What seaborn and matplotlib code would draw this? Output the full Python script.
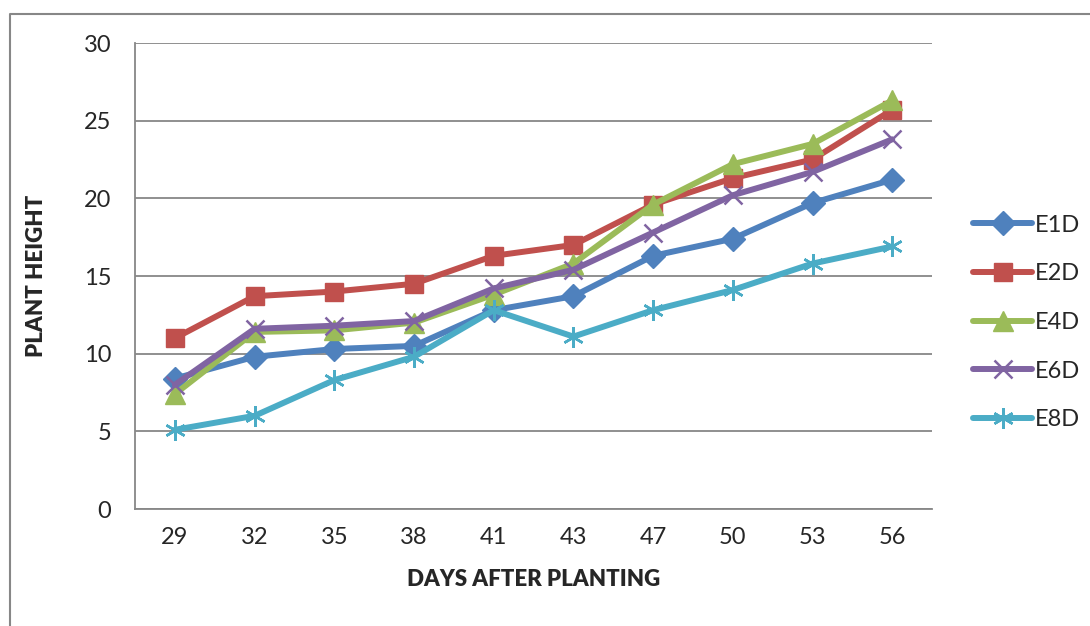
import numpy as np
import pandas as pd
import matplotlib
matplotlib.use("Agg")
import matplotlib.pyplot as plt
from matplotlib.lines import Line2D
from matplotlib.ticker import FixedLocator
import seaborn as sns

days = ["29", "32", "35", "38", "41", "43", "47", "50", "53", "56"]
e1d = [8.4, 9.8, 10.3, 10.5, 12.8, 13.7, 16.3, 17.4, 19.7, 21.2]
e2d = [11.0, 13.7, 14.0, 14.5, 16.3, 17.0, 19.6, 21.3, 22.5, 25.7]
e4d = [7.4, 11.4, 11.5, 12.0, 13.8, 15.8, 19.6, 22.2, 23.5, 26.3]
e6d = [8.0, 11.6, 11.8, 12.1, 14.2, 15.4, 17.8, 20.2, 21.7, 23.8]
e8d = [5.1, 6.0, 8.3, 9.8, 12.8, 11.1, 12.8, 14.1, 15.8, 16.9]

series_names = ["E1D", "E2D", "E4D", "E6D", "E8D"]
series_vals = [e1d, e2d, e4d, e6d, e8d]
colors = ["#4F81BD", "#C0504D", "#9BBB59", "#8064A2", "#4BACC6"]
# marker, size, edge width
marker_style = [("D", 12, 1), ("s", 13, 1), ("^", 14, 1), ("x", 13, 1.8), ((6, 2, 0), 15, 1.8)]

sns.set_style("white")
plt.rcParams["font.family"] = ["Lato", "DejaVu Sans"]

fig = plt.figure(figsize=(10.9, 6.26), dpi=100)
ax = fig.add_axes([0.1239, 0.1869, 0.7312, 0.7444])

grid_c = "#878787"
for name, vals, col, (mk, ms, mew) in zip(series_names, series_vals, colors, marker_style):
    df = pd.DataFrame({"day": days, "height": vals})
    sns.lineplot(data=df, x="day", y="height", ax=ax, color=col, lw=4.3,
                 marker=mk, markersize=ms, markeredgewidth=mew,
                 markeredgecolor=col, markerfacecolor=col, label=name,
                 sort=False, zorder=3)

ax.set_xlim(-0.5, 9.5)
ax.set_ylim(0, 30)
ax.set_yticks(np.arange(0, 31, 5))
ax.yaxis.grid(True, color=grid_c, lw=1.3)
ax.set_axisbelow(True)
for s in ["top", "right"]:
    ax.spines[s].set_visible(False)
for s in ["left", "bottom"]:
    ax.spines[s].set_color(grid_c)
    ax.spines[s].set_linewidth(1.3)

ax.xaxis.set_minor_locator(FixedLocator(np.arange(-0.5, 10, 1)))
ax.tick_params(axis="x", which="major", length=0, pad=13, labelsize=17)
ax.tick_params(axis="x", which="minor", length=7, width=1.3, color=grid_c, direction="out")
ax.tick_params(axis="y", length=8, width=1.3, color=grid_c, direction="out", pad=9, labelsize=17)

ax.set_xlabel("DAYS AFTER PLANTING", fontsize=16, fontweight="heavy")
ax.set_ylabel("PLANT HEIGHT", fontsize=16, fontweight="heavy")
ax.xaxis.set_label_coords(0.5, -0.128)
ax.yaxis.set_label_coords(-0.11, 0.5)

ax.legend(loc="center left", bbox_to_anchor=(0.884, 0.485), bbox_transform=fig.transFigure,
          frameon=False, fontsize=17, handlelength=2.5, handletextpad=0.1,
          labelspacing=1.17, borderaxespad=0)

# outer chart border
fig.add_artist(Line2D([10 / 1090, 10 / 1090, 1.0], [0.0, 1 - 14 / 626, 1 - 14 / 626],
                      transform=fig.transFigure, color=grid_c, lw=1.5))

fig.savefig("out.png", dpi=100)
